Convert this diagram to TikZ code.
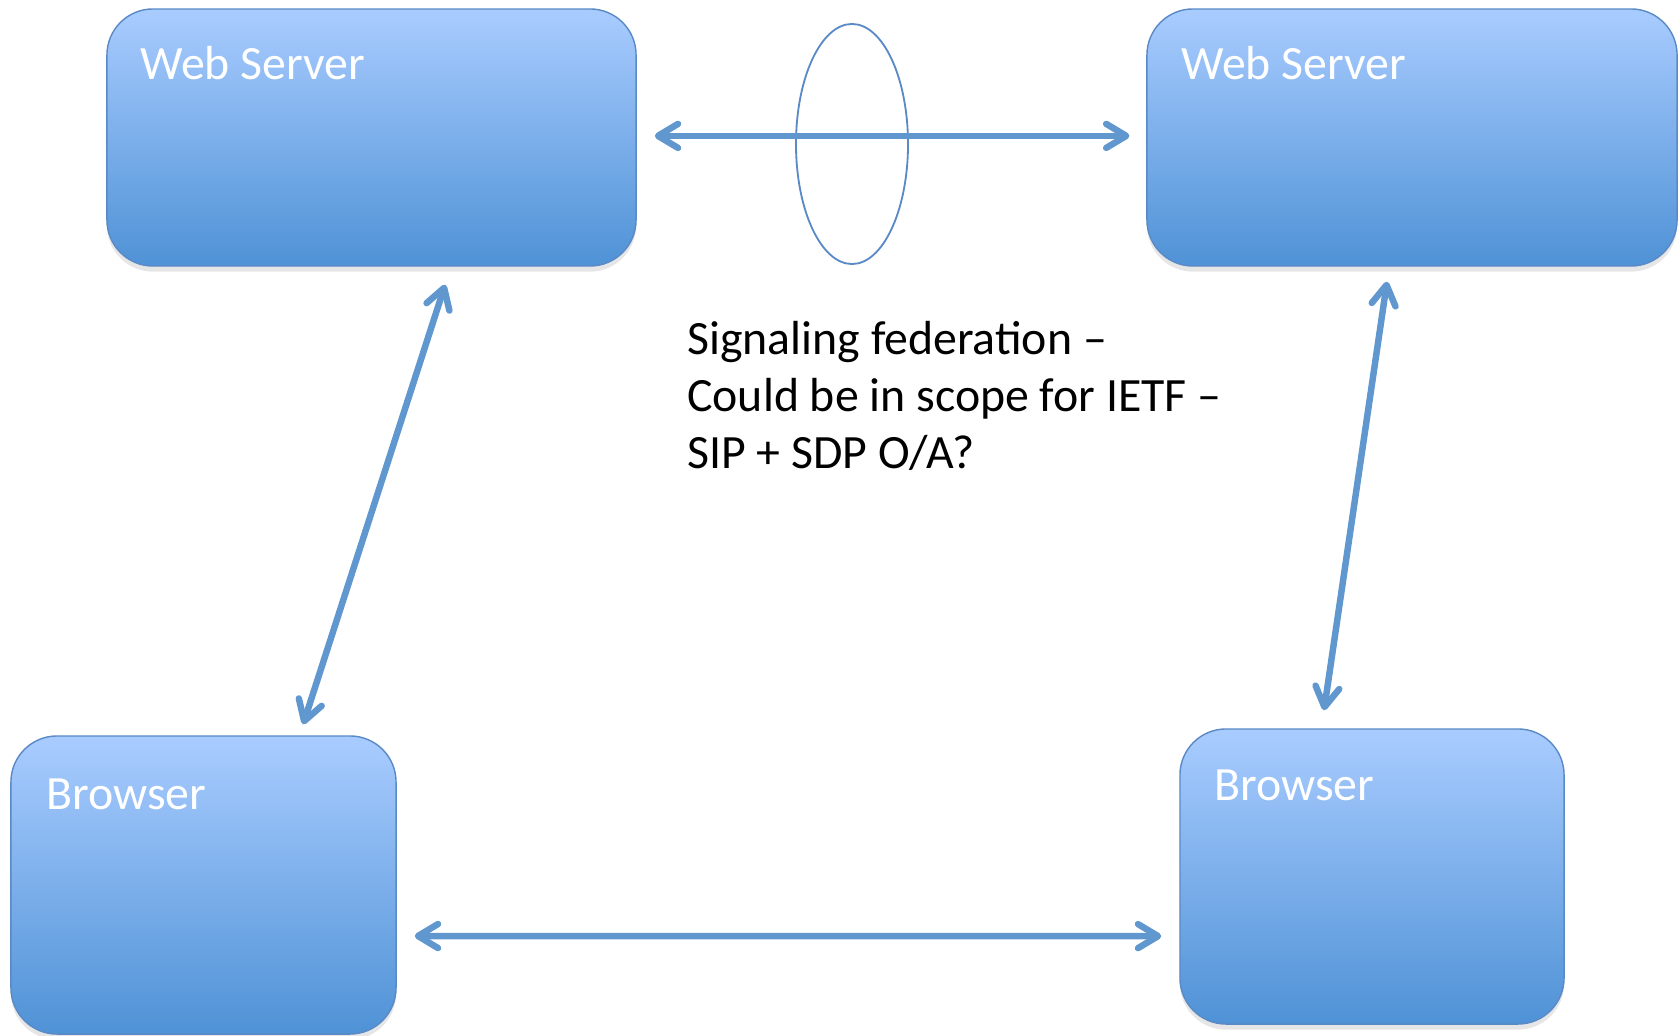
\documentclass[tikz,border=0pt]{standalone}
\usepackage{fontspec}
\setmainfont{Carlito}
\usetikzlibrary{arrows.meta,shapes.geometric,shadows}

\definecolor{boxtop}{HTML}{A9CCFF}
\definecolor{boxbottom}{HTML}{4F92D6}
\definecolor{boxline}{HTML}{5A8AC6}
\definecolor{linkblue}{HTML}{5F97CE}

\tikzset{
  server/.style={draw=boxline, line width=1pt, rounded corners=1.15cm,
    top color=boxtop, bottom color=boxbottom, inner sep=0pt,
    drop shadow={shadow xshift=0pt, shadow yshift=-4pt, opacity=.2}},
  boxtext/.style={text=white, font=\fontsize{34}{40}\selectfont, anchor=base west, inner sep=0pt},
  link/.style={draw=linkblue, line width=4.6pt, <->},
}

\begin{document}
\begin{tikzpicture}[x=0.025cm, y=-0.025cm,
    >={Straight Barb[length=0.5cm,width=0.6cm,round]}]

    \useasboundingbox (0,0) rectangle (1680,1036);

    % the four boxes
    \node[server, minimum width=13.225cm, minimum height=6.425cm] (wsA) at (371.5,137.5) {};
    \node[server, minimum width=13.25cm, minimum height=6.425cm] (wsB) at (1412,137.5) {};
    \node[server, minimum width=9.625cm, minimum height=7.45cm] (brA) at (203.5,885) {};
    \node[server, minimum width=9.6cm, minimum height=7.375cm] (brB) at (1372,876.5) {};

    \node[boxtext] (wsAtext) at (140,80) {Web Server};
    \node[boxtext] (wsBtext) at (1181,80) {Web Server};
    \node[boxtext] (brAtext) at (46,809) {Browser};
    \node[boxtext] (brBtext) at (1214,800) {Browser};

    % federation
    \node[ellipse, draw=boxline, line width=1.3pt, minimum width=2.8cm, minimum height=6cm, inner sep=0pt] (fed) at (852,144) {};

    \draw[link, shorten <=0.45cm, shorten >=0.42cm] ([yshift=0.04cm]wsA.east) -- ([yshift=0.04cm]wsB.west);
    \draw[link] ([xshift=1.84cm,yshift=-0.45cm]wsA.south) -- ([xshift=2.49cm,yshift=0.275cm]brA.north);
    \draw[link] ([xshift=-0.625cm,yshift=-0.375cm]wsB.south) -- ([xshift=-1.2cm,yshift=0.45cm]brB.north);
    \draw[link, shorten <=0.45cm, shorten >=0.45cm] ([yshift=-1.275cm]brA.east) -- ([yshift=-1.49cm]brB.west);

    \node[anchor=west, align=left, inner sep=0pt, font=\fontsize{34}{40.5}\selectfont] (note) at (687,396)
      {Signaling federation --\\Could be in scope for IETF --\\SIP + SDP O/A?};

\end{tikzpicture}
\end{document}
